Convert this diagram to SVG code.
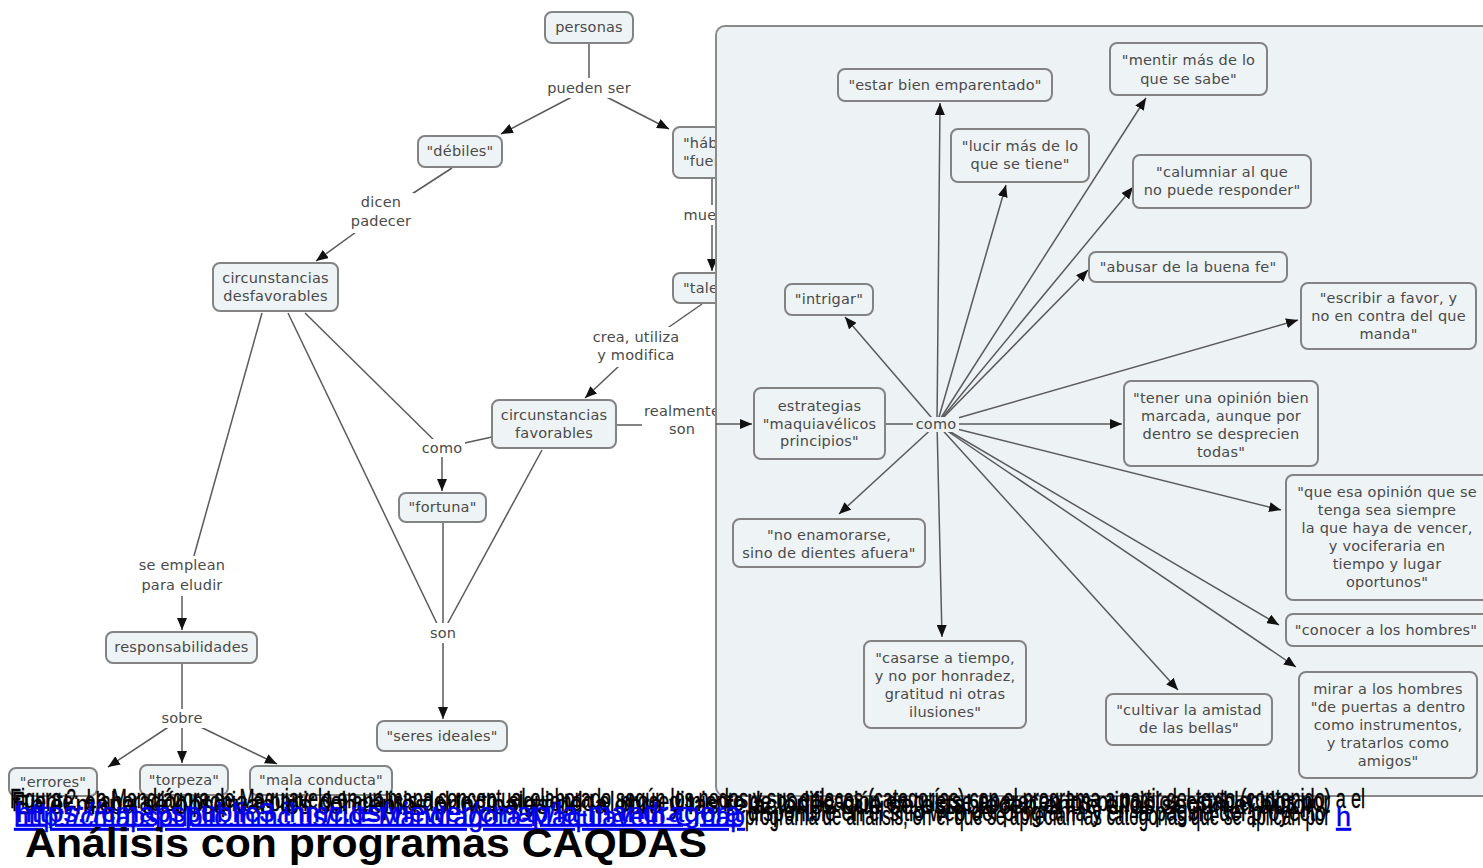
<svg xmlns="http://www.w3.org/2000/svg" width="1483" height="868" viewBox="0 0 1483 868">
<style>
.node rect{fill:#eef3f5;stroke:#838383;stroke-width:2}
.node text,.lbl text{font-family:"DejaVu Sans",Verdana,sans-serif;font-size:14.5px;letter-spacing:0.2px;fill:#4a4a4a;text-anchor:middle}
.lbl rect{fill:#ffffff;stroke:none}
.plbl rect{fill:#edf2f4;stroke:none}
.conn line{stroke:#5a5a5a;stroke-width:1.5;fill:none}
.arr{marker-end:url(#ah)}
.blob{font-family:"Liberation Sans",Arial,sans-serif;font-size:27px;fill:#000;stroke:#000;stroke-width:0.4}
.blue{fill:#0000ee;stroke:#0000ee;text-decoration:underline}
</style>
<defs>
<marker id="ah" markerUnits="userSpaceOnUse" markerWidth="12" markerHeight="10" refX="12" refY="5" orient="auto">
<path d="M0,0 L12,5 L0,10 z" fill="#111"/>
</marker>
</defs>
<rect width="1483" height="868" fill="#ffffff"/>

<!-- left connectors -->
<g id="connectors-left" class="conn">
<line x1="589" y1="44" x2="589" y2="88"/>
<line class="arr" x1="589" y1="88" x2="501" y2="134"/>
<line class="arr" x1="589" y1="88" x2="669" y2="129"/>
<line x1="452" y1="168" x2="381" y2="214"/>
<line class="arr" x1="381" y1="214" x2="316" y2="261"/>
<line x1="712" y1="179" x2="712" y2="215"/>
<line class="arr" x1="712" y1="215" x2="712" y2="271"/>
<line x1="702" y1="304" x2="636" y2="350"/>
<line class="arr" x1="636" y1="350" x2="585" y2="398"/>
<line x1="616" y1="425" x2="680" y2="425"/>
<line x1="262" y1="313" x2="190" y2="570"/>
<line class="arr" x1="182" y1="596" x2="182" y2="630"/>
<line x1="288" y1="313" x2="441" y2="632"/>
<line x1="305" y1="313" x2="442" y2="448"/>
<line x1="492" y1="437" x2="442" y2="448"/>
<line x1="542" y1="450" x2="443" y2="632"/>
<line class="arr" x1="442" y1="448" x2="442" y2="491"/>
<line x1="443" y1="522" x2="443" y2="632"/>
<line class="arr" x1="443" y1="632" x2="443" y2="719"/>
<line x1="182" y1="664" x2="182" y2="718"/>
<line class="arr" x1="182" y1="718" x2="108" y2="767"/>
<line class="arr" x1="182" y1="718" x2="182" y2="763"/>
<line class="arr" x1="182" y1="718" x2="277" y2="764"/>
</g>

<!-- left labels -->
<g class="lbl" id="lbl-pueden"><rect x="541" y="78" width="96" height="20"/><text x="589" y="93">pueden ser</text></g>
<g class="lbl" id="lbl-dicen"><rect x="348" y="193" width="66" height="40"/><text x="381" y="207">dicen<tspan x="381" dy="19">padecer</tspan></text></g>
<g class="lbl" id="lbl-muestran"><rect x="680" y="205" width="36" height="20"/><text x="719" y="220">muestran</text></g>
<g class="lbl" id="lbl-crea"><rect x="588" y="327" width="96" height="40"/><text x="636" y="342">crea, utiliza<tspan x="636" dy="18">y modifica</tspan></text></g>
<g class="lbl" id="lbl-realmente"><rect x="642" y="402" width="74" height="40"/><text x="682" y="416">realmente<tspan x="682" dy="18">son</tspan></text></g>
<g class="lbl" id="lbl-como1"><rect x="419" y="439" width="46" height="18"/><text x="442" y="453">como</text></g>
<g class="lbl" id="lbl-son"><rect x="426" y="623" width="34" height="20"/><text x="443" y="638">son</text></g>
<g class="lbl" id="lbl-seemplean"><rect x="134" y="556" width="96" height="40"/><text x="182" y="570">se emplean<tspan x="182" dy="20">para eludir</tspan></text></g>
<g class="lbl" id="lbl-sobre"><rect x="157" y="709" width="50" height="19"/><text x="182" y="723">sobre</text></g>

<!-- left nodes -->
<g class="node" id="n-personas"><rect x="545" y="12" width="88" height="31" rx="7"/><text x="589" y="32">personas</text></g>
<g class="node" id="n-debiles"><rect x="418" y="136" width="84" height="31" rx="7"/><text x="460" y="156">"débiles"</text></g>
<g class="node" id="n-habiles"><rect x="673" y="127" width="86" height="51" rx="7"/><text x="683" y="148" style="text-anchor:start">"hábiles"<tspan x="683" dy="18">"fuertes"</tspan></text></g>
<g class="node" id="n-talentos"><rect x="673" y="273" width="86" height="30" rx="7"/><text x="683" y="293" style="text-anchor:start">"talentos"</text></g>
<g class="node" id="n-favorables"><rect x="492" y="400" width="124" height="48" rx="7"/><text x="554" y="420">circunstancias<tspan x="554" dy="18">favorables</tspan></text></g>
<g class="node" id="n-desfavorables"><rect x="213" y="263" width="125" height="48" rx="7"/><text x="275.5" y="283">circunstancias<tspan x="275.5" dy="18">desfavorables</tspan></text></g>
<g class="node" id="n-fortuna"><rect x="399" y="493" width="87" height="29" rx="7"/><text x="442.5" y="512">"fortuna"</text></g>
<g class="node" id="n-seres"><rect x="377" y="721" width="130" height="30" rx="7"/><text x="442" y="741">"seres ideales"</text></g>
<g class="node" id="n-responsabilidades"><rect x="106" y="632" width="151" height="31" rx="7"/><text x="181.5" y="652">responsabilidades</text></g>
<g class="node" id="n-errores"><rect x="9" y="768" width="88" height="28" rx="7"/><text x="53" y="787">"errores"</text></g>
<g class="node" id="n-torpeza"><rect x="140" y="765" width="88" height="30" rx="7"/><text x="184" y="785">"torpeza"</text></g>
<g class="node" id="n-mala"><rect x="250" y="766" width="142" height="29" rx="7"/><text x="321" y="785">"mala conducta"</text></g>

<!-- panel -->
<rect id="panel" x="716" y="26" width="820" height="770" rx="9" fill="#edf2f4" stroke="#8a8a8a" stroke-width="2"/>

<!-- panel connectors -->
<g id="connectors-panel" class="conn">
<line class="arr" x1="716" y1="424" x2="752" y2="424"/>
<line x1="886" y1="424" x2="933" y2="424"/>
<line class="arr" x1="937" y1="424" x2="940" y2="103"/>
<line class="arr" x1="937" y1="424" x2="1006" y2="185"/>
<line class="arr" x1="937" y1="424" x2="1146" y2="98"/>
<line class="arr" x1="937" y1="424" x2="1133" y2="187"/>
<line class="arr" x1="937" y1="424" x2="1088" y2="270"/>
<line class="arr" x1="937" y1="424" x2="1298" y2="320"/>
<line class="arr" x1="937" y1="424" x2="1122" y2="424"/>
<line class="arr" x1="937" y1="424" x2="1281" y2="510"/>
<line class="arr" x1="937" y1="424" x2="1279" y2="625"/>
<line class="arr" x1="937" y1="424" x2="1296" y2="667"/>
<line class="arr" x1="937" y1="424" x2="1178" y2="690"/>
<line class="arr" x1="937" y1="424" x2="942" y2="637"/>
<line class="arr" x1="937" y1="424" x2="839" y2="514"/>
<line class="arr" x1="937" y1="424" x2="845" y2="317"/>
</g>
<g class="lbl plbl" id="lbl-como2"><rect x="913" y="417" width="46" height="15"/><text x="936" y="429">como</text></g>

<!-- panel nodes -->
<g class="node" id="n-estrategias"><rect x="754" y="388" width="131" height="71" rx="7"/><text x="819.5" y="411">estrategias<tspan x="819.5" dy="17.5">"maquiavélicos</tspan><tspan x="819.5" dy="17.5">principios"</tspan></text></g>
<g class="node" id="n-estar"><rect x="838" y="69" width="214" height="32" rx="7"/><text x="945" y="90">"estar bien emparentado"</text></g>
<g class="node" id="n-lucir"><rect x="951" y="129" width="138" height="53" rx="7"/><text x="1020" y="151">"lucir más de lo<tspan x="1020" dy="18">que se tiene"</tspan></text></g>
<g class="node" id="n-mentir"><rect x="1110" y="43" width="157" height="52" rx="7"/><text x="1188.5" y="65">"mentir más de lo<tspan x="1188.5" dy="19">que se sabe"</tspan></text></g>
<g class="node" id="n-calumniar"><rect x="1133" y="155" width="178" height="53" rx="7"/><text x="1222" y="177">"calumniar al que<tspan x="1222" dy="18">no puede responder"</tspan></text></g>
<g class="node" id="n-abusar"><rect x="1089" y="252" width="198" height="30" rx="7"/><text x="1188" y="272">"abusar de la buena fe"</text></g>
<g class="node" id="n-escribir"><rect x="1301" y="283" width="175" height="66" rx="7"/><text x="1388.5" y="303">"escribir a favor, y<tspan x="1388.5" dy="18">no en contra del que</tspan><tspan x="1388.5" dy="18">manda"</tspan></text></g>
<g class="node" id="n-tener"><rect x="1124" y="381" width="194" height="85" rx="7"/><text x="1221" y="403">"tener una opinión bien<tspan x="1221" dy="18">marcada, aunque por</tspan><tspan x="1221" dy="18">dentro se desprecien</tspan><tspan x="1221" dy="18">todas"</tspan></text></g>
<g class="node" id="n-queesa"><rect x="1286" y="475" width="215" height="125" rx="7"/><text x="1387" y="497">"que esa opinión que se<tspan x="1387" dy="18">tenga sea siempre</tspan><tspan x="1387" dy="18">la que haya de vencer,</tspan><tspan x="1387" dy="18">y vociferaria en</tspan><tspan x="1387" dy="18">tiempo y lugar</tspan><tspan x="1387" dy="18">oportunos"</tspan></text></g>
<g class="node" id="n-conocer"><rect x="1286" y="614" width="215" height="32" rx="7"/><text x="1386" y="635">"conocer a los hombres"</text></g>
<g class="node" id="n-mirar"><rect x="1299" y="672" width="178" height="106" rx="7"/><text x="1388" y="694">mirar a los hombres<tspan x="1388" dy="18">"de puertas a dentro</tspan><tspan x="1388" dy="18">como instrumentos,</tspan><tspan x="1388" dy="18">y tratarlos como</tspan><tspan x="1388" dy="18">amigos"</tspan></text></g>
<g class="node" id="n-cultivar"><rect x="1106" y="694" width="166" height="51" rx="7"/><text x="1189" y="715">"cultivar la amistad<tspan x="1189" dy="18">de las bellas"</tspan></text></g>
<g class="node" id="n-casarse"><rect x="864" y="641" width="162" height="87" rx="7"/><text x="945" y="663">"casarse a tiempo,<tspan x="945" dy="18">y no por honradez,</tspan><tspan x="945" dy="18">gratitud ni otras</tspan><tspan x="945" dy="18">ilusiones"</tspan></text></g>
<g class="node" id="n-enamorarse"><rect x="733" y="519" width="192" height="48" rx="7"/><text x="829" y="540">"no enamorarse,<tspan x="829" dy="18">sino de dientes afuera"</tspan></text></g>
<g class="node" id="n-intrigar"><rect x="785" y="284" width="88" height="31" rx="7"/><text x="829" y="304">"intrigar"</text></g>

<!-- overlapping caption text -->
<g id="caption">
<text class="blob" x="10" y="808" textLength="1355" lengthAdjust="spacingAndGlyphs">Figura 2. La Mandrágora de Maquiavelo en un mapa conceptual elaborado según los nodos y sus enlaces (categorías) con el programa a partir del texto (contenido) a el</text>
<text class="blob" x="12" y="811" textLength="1318" lengthAdjust="spacingAndGlyphs">Fuente: elaboración propia a partir del análisis del texto, siguiendo el procedimiento de codificación en que se aparecen los principios establecidos por</text>
<text class="blob" x="14" y="814" textLength="1300" lengthAdjust="spacingAndGlyphs">En el mapa se observan los conceptos principales de la obra y las relaciones que se establecen entre ellos según el autor</text>
<text class="blob" x="745" y="825" textLength="585" lengthAdjust="spacingAndGlyphs">programa de análisis, en el que se aprecian las categorías que se aplican por</text>
<text class="blob" x="748" y="821" textLength="578" lengthAdjust="spacingAndGlyphs">disponible en el sitio web del programa y en la página del proyecto</text>
<text class="blob blue" x="14" y="826" textLength="731" lengthAdjust="spacingAndGlyphs">http://cmapspublic.ihmc.us/rid=Mandragora-Maquiavelo-Cmap</text>
<text class="blob blue" x="16" y="822" textLength="725" lengthAdjust="spacingAndGlyphs">https://cmapspublic3.ihmc.us/viewer/cmap/la-mandragora</text>
<text class="blob blue" x="1336" y="826">h</text>
<text x="25" y="857" font-family="Liberation Sans, Arial, sans-serif" font-size="40" font-weight="bold" fill="#000" textLength="682" lengthAdjust="spacingAndGlyphs">Análisis con programas CAQDAS</text>
</g>
</svg>
